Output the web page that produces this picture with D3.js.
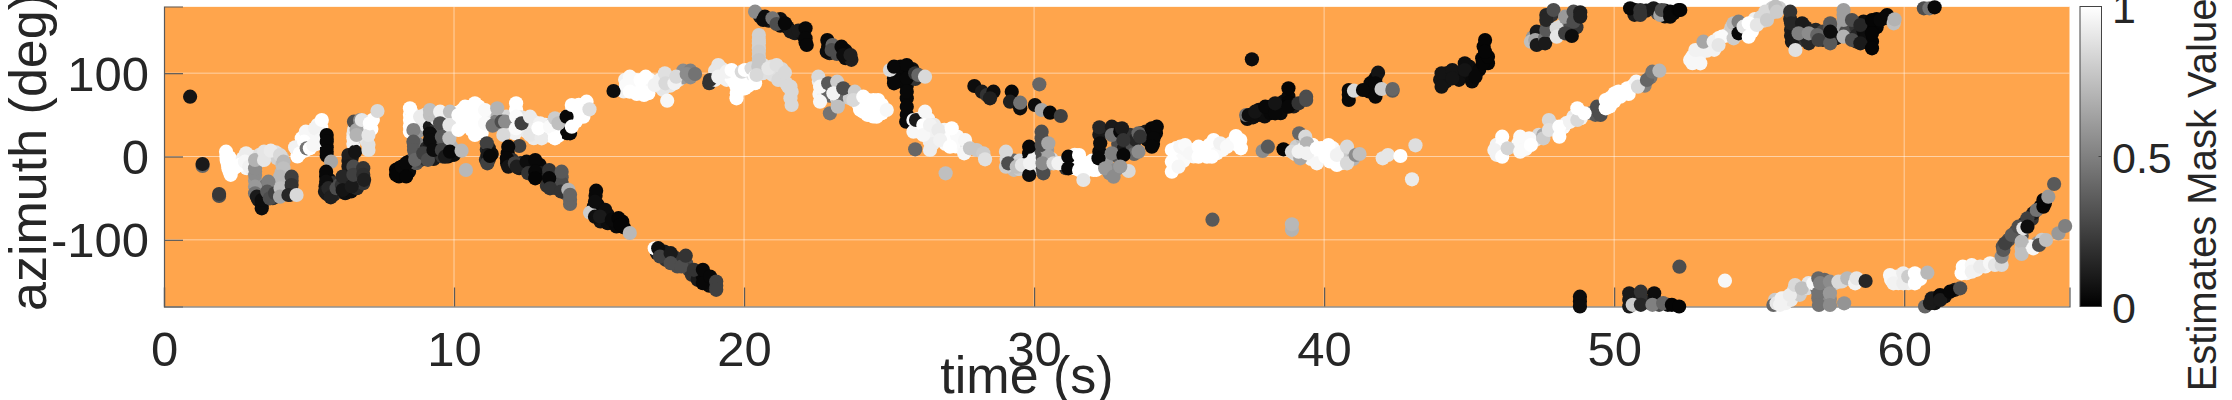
<!DOCTYPE html>
<html><head><meta charset="utf-8">
<script src="https://cdn.jsdelivr.net/npm/d3@7"></script>
<style>html,body{margin:0;padding:0;background:#fff;overflow:hidden}svg{display:block}text{font-family:"Liberation Sans",Arial,sans-serif;fill:#262626}</style>
</head><body><svg id="c" width="2232" height="400"></svg>
<script>
// each sample: [time s, azimuth deg, estimated mask value]
const under00to08=[[2.15,0,1],[2.2,-9,1],[2.26,-18,1],[2.25,-1,1],[2.3,-10,1],[2.4,-14,1],[2.5,-12,1],[2.72,-2,.95],[2.72,-10,1],[2.9,-4,.95],[2.85,-14,.97],[3,0,.93],[3.05,-16,.9],[3.14,-9,.6],[3.14,-18,.55],[3.14,-29,.6],[3.3,-5,.88],[3.3,2,.88],[3.55,3,.9],[3.85,5,.88],[3.9,-2,.82],[4.06,-1,.8],[4.08,-10,.75],[4.06,-19,.72],[4,-31,.72],[3.98,-38,.72],[3.2,-40,.55],[3.25,-52,.1],[3.37,-57,.05],[3.45,-47,.15],[3.5,-35,.45],[3.6,-36,.45],[3.6,-46,.3],[3.72,-42,.3],[3.75,-50,.2],[3.9,-44,.6],[4.15,-44,.7],[4.25,-40,.2],[4.4,-29,.25],[4.38,-40,.2],[4.35,-46,.2],[4.45,-44,.8],[4.6,7,.97],[4.6,0,1],[4.75,10,1],[4.75,22,1],[4.85,7,1],[4.95,18,.97],[4.95,28,1],[5.1,28,.97],[5.1,18,.97],[5.28,25,.97],[5.3,38,.97],[5.42,35,1],[5.42,28,.97],[5.25,15,.97],[5.61,21,.03],[5.61,11,.03],[5.61,1,.03],[5.59,-24,.04],[5.57,-36,.06],[5.62,-45,.1],[5.7,-28,.05],[5.85,-38,.3],[5.85,-46,.15],[5.8,-32,.2],[6.05,-42,.15],[6.05,-34,.3],[6.25,-38,.1],[6.3,-30,.12],[6.36,-5,.1],[6.36,-20,.1],[6.25,-44,.06],[6.36,-38,.85],[6.45,-42,.05],[6.6,-30,.05],[6.65,-38,.15],[6.7,-16,.2],[6.75,-26,.05],[6.87,-32,.2],[6.47,-2,.1],[6.53,15,.95],[6.53,27,.92],[6.58,36,.6],[6.7,35,.7],[6.72,24,.8],[6.7,42,.7],[6.9,30,.9],[6.95,38,.97],[7,18,.9],[7.05,14,.88],[7.2,44,1],[7.15,33,1]];
const under08to15=[[8.1,-14,.03],[8.1,-24,.02],[8.25,-18,.02],[8.45,-6,.05],[8.45,-18,.04],[8.48,50,1],[8.48,36,1],[8.55,52,.95],[8.6,25,.4],[8.62,12,.35],[8.65,2,.35],[8.7,-8,.35],[8.8,-5,.3],[8.8,5,.3],[8.75,15,.5],[8.83,40,.85],[8.75,30,.6],[9,50,.9],[9,38,.9],[9,-3,.2],[9.05,10,.15],[9.17,43,.8],[9.17,36,.1],[9.17,12,.1],[9.2,2,.15],[9.3,-3,.1],[9.3,30,.2],[9.4,45,.9],[9.4,5,.15],[9.45,20,.4],[9.5,47,.5],[9.52,32,.35],[9.58,16,.3],[9.6,0,.2],[9.7,8,.08],[9.7,48,.85],[9.72,32,.4],[9.8,0,.06],[9.86,45,.9],[9.86,30,.85],[9.9,12,.7],[10,2,.05],[10.05,42,1],[10.05,52,1],[10.15,40,1],[10.25,55,1],[10.25,48,1],[10.25,35,1],[10.5,52,1],[10.5,40,1],[10.6,60,1],[10.6,32,1],[10.85,60,1],[10.85,50,1],[10.85,35,1],[10.95,28,1],[11,45,1],[11.2,50,.97],[11.2,40,.97],[11.35,48,.95],[11.13,8,.15],[11.1,-4,.2],[11.2,10,.1],[11.2,-3,.15],[11.3,3,.05],[11.5,50,.7],[11.45,42,.5],[11.7,35,.6],[11.8,48,.85],[11.85,35,.9],[12,30,.9],[12.14,56,1],[12.14,40,.98],[12.1,28,.95],[12.33,47,.9],[12.45,40,.95],[12.5,30,.92],[12.75,42,.93],[12.8,30,.93],[12.75,22,.92],[13.15,38,.97],[13.15,28,.97],[13.3,25,1],[13.4,40,.85],[13.6,33,.8],[13.6,25,1],[13.75,45,.97],[13.85,36,.99],[13.9,28,.03],[13.9,40,.03],[14.06,54,1],[14.06,45,1],[14.2,55,1],[14.2,42,1],[14.3,62,1],[14.35,48,1]];
const underDescent=[[11.85,4,.03],[11.83,-8,.05],[11.95,-10,.1],[12,-4,.2],[12.25,-14,.1],[12.3,-8,.15],[12.35,-12,.05],[12.5,-14,.1],[12.65,-8,.04],[12.65,-18,.1],[12.8,-11,.03],[12.7,-22,.3],[12.95,-10,.03],[13,-20,.1],[13.28,-21,.15],[13.28,-31,.1],[13.2,-35,.2],[13.5,-24,.2],[13.5,-38,.25],[13.71,-25,.35],[13.71,-32,.3],[13.71,-38,.3],[13.85,-44,.3],[14,-57,.4],[14.88,-47,.04],[14.82,-60,.05],[14.8,-66,.05],[14.95,-66,.08],[15.1,-66,.05],[15.05,-78,.08],[15.3,-70,.05],[15.3,-80,.05],[15.55,-78,.03],[15.6,-84,.03],[15.8,-78,.02],[15.85,-85,.02],[14.95,-58,.04],[17,-116,.1],[17.25,-114,.1],[17.3,-124,.2],[17.6,-126,.25],[17.7,-132,.3],[17.65,-122,.2],[18,-128,.3],[18.1,-136,.25],[18.2,-142,.2],[18.4,-140,.1],[18.4,-148,.1],[18.58,-144,.03],[18.7,-150,.03],[18.8,-155,.05],[19.04,-155,.25]];
const underArc=[[15.85,78,.95],[15.9,92,.95],[16.2,85,1],[16.25,92,.98],[16.3,75,1],[16.5,84,1],[16.7,84,1],[16.7,76,1],[16.75,92,.98],[17.05,85,.9],[17.1,92,.95],[17.2,80,.9],[17.4,92,.9],[17.45,85,.9],[17.75,92,.9],[17.9,95,.6],[17.9,103,.55],[18.15,103,.5],[18.15,95,.55],[18.8,88,.2],[19,103,.9],[19,92,.95],[19.25,105,.92],[19.25,95,.97],[19.4,92,.95],[19.55,95,1],[19.65,90,1],[19.75,76,1],[19.85,92,1],[19.85,80,1],[20,95,1],[20.15,92,1],[20.15,85,1],[20.3,98,.9],[20.38,88,1],[20.51,130,.82],[20.51,120,.8],[20.51,140,.82],[20.65,100,.88],[20.65,110,.88],[20.95,108,.88],[20.98,98,.88],[21.3,96,.85],[21.3,105,.85],[21.45,88,.85],[21.6,70,.85],[21.6,84,.85]];
const underTop20=[[20.55,168,.1],[20.85,163,.1],[21.25,165,.05],[21.25,157,.05],[21.5,155,.05],[21.6,150,.1],[21.75,148,.1],[22,150,.05],[22.05,145,.05],[22.12,137,.03],[22.9,132,.05],[22.95,124,.1],[23.2,130,.2],[23.2,123,.3],[23.5,127,.05],[23.5,118,.05],[23.7,116,.12]];
const underWhite22to28=[[22.58,90,.92],[22.6,75,.97],[22.7,88,.9],[22.75,72,.95],[22.85,80,.4],[22.95,73,.4],[23.05,85,.6],[23.2,82,.8],[23.2,70,.9],[23.25,65,.75],[23.35,74,.4],[23.55,78,.4],[23.65,70,.8],[23.9,72,.9],[23.95,62,.98],[24,56,1],[24.25,68,1],[24.25,58,1],[24.25,50,1],[24.45,56,1],[24.45,48,1],[24.75,62,1],[24.75,52,1],[25.17,100,.03],[25.17,94,.03],[25.4,108,.03],[25.4,97,.03],[25.4,90,.03],[25.61,102,.03],[25.61,85,.03],[25.61,70,.03],[25.61,50,.03],[25.8,105,.05],[25.9,93,.2],[25.84,37,.97],[26,30,.97],[26,45,.97],[26.2,46,.97],[26.1,30,.97],[26.35,45,.97],[26.35,28,.95],[26.4,18,.93],[26.55,38,.92],[26.6,25,.95],[26.5,15,.93],[26.85,25,.98],[26.9,32,.97],[26.95,15,.98],[27.16,24,1],[27.3,12,1],[27.35,24,.98],[27.45,16,.98],[27.7,12,.9]];
const underLower29to34=[[29.05,-3,.85],[29.2,-10,.7],[29.3,-5,.4],[29.3,-16,.75],[29.5,-5,.85],[29.5,-15,.8],[29.7,-8,.85],[29.83,4,.03],[29.83,-4,.03],[29.83,-14,.04],[30,-14,.95],[30,-2,.95],[30.1,-10,.9],[30.26,22,.3],[30.26,6,.3],[30.3,-2,.3],[30.3,-14,.3],[30.45,8,.6],[30.45,-10,.6],[30.6,-3,.85],[31,-8,.9],[31.1,-14,.2],[31.18,-7,.03],[31.4,-6,1],[31.4,2,.98],[31.4,-14,1],[31.6,-8,1],[31.75,-18,1],[31.9,-15,1],[32,-5,1],[32.15,-16,1],[32.25,26,.1],[32.25,6,.04],[32.3,-8,.8],[32.5,30,.1],[32.5,-5,.6],[32.6,-20,.55],[32.85,33,.08],[32.85,-15,.55],[32.9,15,.3],[32.9,0,.35],[33.05,26,.12],[33.1,10,.1],[33.3,26,.2],[33.4,12,.3],[33.45,3,.4],[33.5,20,.15],[33.7,28,.12],[33.85,30,.1],[33.9,20,.05],[34,26,.03],[34.1,15,.03],[34.2,28,.03]];
const under35to41=[[34.85,4,1],[34.85,-12,1],[34.9,10,.98],[35,0,.98],[35.1,5,.98],[35.15,-5,.98],[35.25,8,.97],[35.5,8,.98],[35.5,0,.98],[35.8,10,1],[35.85,2,1],[36.05,14,1],[36.05,5,1],[36.3,12,1],[36.3,4,.98],[36.5,8,.98],[36.8,16,.97],[36.95,15,1],[37.05,14,1],[37.35,45,.05],[37.55,47,.06],[37.75,56,.05],[37.75,50,.05],[37.95,48,.05],[38.15,60,.03],[38.15,52,.03],[38.5,60,.03],[38.5,52,.04],[38.6,66,.05],[38.77,72,.03],[38.77,65,.02],[38.95,60,.1],[39,3,.9],[39.05,12,.8],[39.25,22,.75],[39.25,0,.8],[39.3,10,.95],[39.55,8,.97],[39.55,-3,.97],[39.6,14,1],[39.9,10,1],[39.9,0,1],[40.2,3,1],[40.2,-6,1],[40.3,10,.98],[40.6,5,.95],[40.6,-8,.9],[40.85,1,.8],[41,-3,.7]];
const under41to52=[[40.85,74,.03],[41.55,78,.03],[41.6,88,.03],[41.77,94,.03],[41.77,80,.03],[44,92,.08],[44.2,90,.08],[44.25,100,.08],[44.6,100,.07],[44.65,92,.06],[45,100,.05],[45,108,.05],[45.1,90,.04],[45.35,104,.03],[45.45,118,.02],[45.5,132,.02],[45.65,112,.02],[45.95,14,.95],[45.95,2,.95],[46.14,8,1],[46.14,15,1],[46.7,16,.98],[46.8,12,.98],[46.9,20,.97],[46.95,9,.98],[47.3,20,.9],[47.4,26,.85],[47.85,38,.9],[48.11,30,1],[48.25,35,.98],[48.35,40,.95],[48.6,48,.92],[48.85,46,.95],[49.2,52,.5],[49.35,50,.35],[49.45,54,.3],[49.65,62,1],[49.85,70,1],[49.85,60,1],[50,66,1],[50.15,78,1],[50.35,76,1],[50.5,75,1],[50.65,85,1],[50.95,88,.7],[51.05,85,.5],[51.25,95,.45],[47.2,143,.6],[47.4,144,.3],[47.45,136,.3],[47.7,158,.15],[47.85,170,.2],[47.8,145,.4],[48.15,156,.85],[48.15,148,.9],[48.3,155,.5],[48.4,167,.4],[48.45,153,.3],[48.7,168,.2],[48.7,155,.2],[50.7,176,.1],[50.7,170,.1],[51.1,175,.1],[51.5,172,.3],[51.75,175,.1],[51.75,168,.05],[52.05,172,.03],[48.82,-174,.05],[50.52,-172,.1],[50.75,-176,.3],[50.72,-168,.2],[50.92,-170,.15],[51.15,-175,.2],[51.38,-171,.1],[51.55,-178,.3],[51.85,-178,.05]];
const under52to65=[[55.55,-172,.8],[55.9,-170,.92],[55.9,-176,.95],[56.1,-172,.92],[56.2,-160,.85],[56.4,-166,.8],[56.65,-158,.85],[56.7,-152,.9],[57,-158,.45],[57.04,-170,.45],[57.25,-148,.4],[57.25,-158,.5],[57.25,-170,.5],[57.44,-157,.55],[57.44,-171,.55],[57.6,-152,.8],[57.85,-150,.85],[58.2,-148,.85],[59.55,-148,.97],[59.75,-144,.95],[59.8,-152,.95],[60.15,-152,.95],[60.55,-147,1],[61.05,-176,.08],[61.1,-170,.05],[61.4,-168,.05],[61.75,-160,.1],[62.15,-134,1],[62.15,-140,.97],[62.5,-136,.95],[62.8,-132,.95],[63.25,-128,.9],[63.4,-108,.3],[63.6,-100,.3],[63.85,-90,.25],[64.05,-110,.75],[64.05,-95,.3],[64.15,-80,.15],[64.4,-75,.2],[64.45,-68,.1],[64.7,-60,.05],[64.85,-56,.02],[64.6,-104,.6],[64.75,-100,.8],[64.35,-108,.97],[52.7,120,.97],[52.7,112,.97],[52.85,118,.97],[52.95,122,.95],[53.2,135,.95],[53.2,127,.95],[53.45,128,.95],[53.6,142,.97],[53.85,145,.95],[54,150,.85],[54.05,155,.8],[54.4,148,.9],[54.5,150,.97],[54.75,150,1],[54.85,165,.95],[55.05,167,.85],[55.15,163,.85],[55.4,172,.8],[55.45,178,.8],[55.7,178,.8],[56.07,165,.15],[56.1,152,.12],[56.1,145,.1],[56.3,155,.1],[56.45,148,.15],[56.45,140,.2],[56.6,155,.12],[56.65,142,.15],[56.9,142,.2],[56.95,152,.15],[57.2,150,.25],[57.2,140,.15],[57.45,154,.35],[57.45,142,.35],[57.7,150,.2],[57.65,142,.1],[57.91,170,.62],[57.91,155,.62],[58,150,.3],[58.1,160,.3],[58.1,148,.3],[58.35,155,.2],[58.35,145,.15],[58.35,138,.15],[58.6,162,.05],[58.6,150,.05],[58.6,140,.05],[58.89,156,.02],[58.89,138,.02],[59.05,165,.02],[59.05,155,.02],[59.3,166,.03]];
const track00to05=[[.9,71.8,.08],[1.33,-11.4,.4],[1.33,-9,.1],[1.9,-47.4,.3],[1.9,-45,.22],[2.14,5.8,1],[2.16,-4.2,1],[2.22,-14,1],[2.3,-22,1],[2.62,-10,1],[2.83,3.8,.93],[2.79,-6.2,.97],[2.94,-12,.95],[3.14,-22.2,.55],[3.14,-14.2,.55],[3.14,-4.2,.7],[3.45,-4.2,.9],[3.45,5.8,.9],[3.68,7,.92],[4,1.8,.85],[4.12,-6.2,.72],[4.12,-14.2,.75],[4,-24.2,.72],[3.14,-36.2,.6],[3.14,-44.2,.45],[3.2,-48.2,.1],[3.37,-62.2,.05],[3.37,-52.2,.05],[3.6,-30.2,.5],[3.56,-42.2,.35],[3.65,-50.2,.3],[3.83,-44.2,.25],[4.02,-38.2,.75],[4,-48.2,.65],[4.4,-24.2,.25],[4.4,-34.2,.2],[4.29,-46.2,.15],[4.57,-46.2,.85]];
const track05to08=[[4.52,11,.95],[4.69,3.8,1],[4.89,29.8,.97],[4.83,17.8,1],[4.92,9.8,.45],[5.03,9.8,1],[5.21,33.8,.95],[5.15,13.8,.97],[5.44,43.8,1],[5.38,19.8,.97],[5.61,25.8,.03],[5.61,17.8,.03],[5.61,5.8,.03],[5.76,-6.2,.65],[5.59,-18.2,.03],[5.59,-30.2,.05],[5.55,-42.2,.1],[5.67,-38,.15],[5.75,-49,.12],[5.95,-38,.3],[6.13,-34.2,.2],[6.36,1.8,.12],[6.36,-12,.1],[6.16,-24,.15],[6.16,-40.2,.08],[6.47,-36,.1],[6.59,5.8,.08],[6.53,-12.2,.3],[6.53,-22,.25],[6.87,-14,.2],[6.87,-22,.18],[6.9,-28,.12],[6.53,21.8,.95],[6.55,31.8,.9],[6.55,41.8,.3],[6.76,43.8,.55],[6.64,31.8,.65],[6.64,25.8,.7],[6.82,43.8,.9],[7.05,25.8,.9],[7.1,39.8,1],[7.05,7.8,.88],[7.36,54.6,.85]];
const track08to11=[[8,-16,.02],[8,-22,.02],[8.2,-12,.03],[8.35,-8,.03],[8.35,-24,.02],[8.48,57.8,1],[8.48,43.8,1],[8.48,29.8,1],[8.6,31.8,.5],[8.6,17.8,.35],[8.62,7.8,.35],[8.66,-4,.4],[8.83,47.8,.92],[9.17,49.8,.75],[9.17,55.8,.75],[9.17,27.8,.05],[9.17,19.8,.05],[8.94,3.8,.25],[9.1,-4,.3],[9.29,7.8,.05],[9.52,53.8,.95],[9.52,39.8,.3],[9.58,23.8,.35],[9.58,7.8,.25],[9.69,-.2,.1],[9.86,53.8,.75],[9.84,37.8,.9],[9.84,21.8,.75],[9.86,5.8,.03],[10.26,7,.72],[10.41,-16.2,.72],[10.15,49.8,1],[10.15,31.8,1],[10.38,59.8,1],[10.38,43.8,1],[10.72,63.8,1],[10.72,43.8,1],[10.72,25.8,1],[11.07,55.8,.98],[11.07,39.8,.98]];
const track11to15=[[11.13,15.8,.25],[11.15,1.8,.1],[11.15,-8.2,.25],[11.24,.6,.03],[11.49,57.8,.7],[11.33,37,.45],[11.64,41.8,.3],[11.76,41.8,.55],[11.7,25.8,.85],[12.14,63.8,1],[12.14,47.8,.98],[12.14,33.8,.98],[12.25,12.6,.25],[12.33,39.8,.25],[12.62,47.8,.92],[12.62,25.8,.9],[12.97,39.8,.95],[13.02,21.8,.92],[12.91,33.8,1],[13.31,35.8,.98],[13.48,45.8,.8],[13.48,21.8,1],[13.6,39.8,.75],[14,27.8,.03],[13.88,47.8,.03],[14.06,61.8,1],[14.06,35.8,1],[14.46,57.8,1],[14.57,65.8,1],[14.46,47.8,1],[14.67,56.6,.87]];
const descentA=[[11.87,11.8,.03],[11.82,-2.2,.03],[11.87,-12.2,.08],[12.1,-8.2,.25],[12.16,-12.2,.12],[12.5,-6.2,.05],[12.56,-20,.2],[12.8,-4.2,.03],[12.8,-18.2,.03],[12.8,-26.2,.02],[13.28,-16.2,.2],[13.28,-26,.03],[13.31,-38.2,.2],[13.71,-18.2,.35],[13.69,-42,.2],[13.94,-40,.7],[14,-52,.4],[14,-46,.4],[14.69,-67.4,.8],[14.9,-41,.03],[14.86,-54.2,.05],[14.86,-72.2,.06],[15.21,-64,.05],[15.03,-72,.1],[15.44,-76,.04],[15.67,-74,.02],[15.73,-82,.02],[16.06,-91.8,.72]];
const descentB=[[16.92,-110.2,1],[17.04,-110,.05],[17.1,-120,.25],[17.47,-116,.1],[17.47,-128,.3],[17.84,-132,.3],[17.99,-119,.2],[18.27,-136,.2],[18.58,-136,.03],[18.58,-152,.03],[18.83,-144,.03],[19.04,-150,.25],[19.04,-160,.25]];
const arc15to22=[[15.5,78.6,.05],[15.93,85.8,.98],[16.06,95.8,.98],[16.06,77.8,1],[16.43,91.8,1],[16.55,73.8,1],[16.61,95.8,1],[16.92,85.8,.95],[17.27,99.8,.88],[17.29,87.8,.85],[17.35,67,.97],[17.6,87.8,.95],[17.66,95.8,.85],[18.02,99,.55],[18.31,99,.45],[18.82,91.8,.2],[19.11,109.8,.9],[19.11,95.8,.95],[19.4,101.8,.95],[19.74,83.8,1],[19.74,69.8,1],[19.57,103.8,1],[19.92,101.8,.85],[20.03,103.8,1],[20.03,81.8,1],[20.26,105.8,.85],[20.38,95.8,1],[20.51,145.8,.82],[20.51,135.8,.82],[20.51,125.8,.8],[20.51,115.8,.78],[20.49,107.8,.78],[20.43,97.8,.85],[20.84,105.8,.9],[21.12,109.8,.88],[21.18,91.8,.85],[21.41,100.6,.85],[21.52,83.8,.85],[21.64,77.8,.85],[21.64,61.8,.85]];
const topTrack20to24=[[20.38,173.8,.55],[20.72,167.8,.05],[20.66,163.8,.05],[20.98,165.8,.45],[21.12,159,.3],[21.41,159.8,.03],[21.87,151,.1],[22.12,153.8,.03],[22.12,141.8,.03],[22.16,133.8,.03],[22.87,139.8,.03],[22.85,125.8,.05],[23.05,133.8,.4],[23.02,127.8,.3],[23.36,131.8,.03],[23.42,121.8,.05],[23.67,121.8,.12]];
const whiteTrack22to25=[[22.56,95.8,.85],[22.62,83.8,.97],[22.62,65.8,.97],[22.9,87.8,.35],[22.96,51.8,.45],[23.21,89.8,.8],[23.23,59.8,.75],[23.08,75.8,.95],[23.42,81.8,.3],[23.82,77.8,.8],[23.77,67.8,.85],[24.11,71.8,1],[24.11,53.8,1],[24.46,67.8,1],[24.57,47.8,1],[24.62,67.8,1],[24.62,49.8,1],[24.92,55.8,.97]];
const track25to28=[[25.03,103.8,.85],[25.17,107.8,.03],[25.17,87.8,.03],[25.61,109.8,.03],[25.61,93.8,.03],[25.61,77.8,.03],[25.61,59.8,.03],[25.9,99.8,.2],[26.01,97.8,.4],[26.24,95.8,.85],[25.59,41.8,.03],[25.84,43.8,.97],[25.84,29.8,.97],[25.93,43.8,.1],[26.24,53.8,.97],[26.18,37.8,1],[26.18,25.8,.97],[26.41,37.8,.95],[26.41,7.8,.93],[26.7,31.8,.92],[25.9,8.6,.4],[26.76,19.8,.95],[27.16,33.8,1],[27.1,11.8,1],[27.62,19.8,.97],[27.59,3.8,.97],[27.79,9.8,.78],[28.02,7.8,.78],[28.25,3.8,.8],[28.31,-3.4,.88],[26.95,-20.2,.75]];
const upper28to31=[[27.94,84.6,.05],[28.2,77.8,.1],[28.37,73.8,.2],[28.6,77.8,.05],[28.48,69.8,.12],[29.23,77.8,.03],[29.17,65.8,.12],[29.52,57.8,.05],[29.52,64.6,.45],[30.18,86.6,.4],[30.03,61.8,.05],[30.26,55.8,.65],[30.55,52.6,.03],[30.92,48.6,.25]];
const lower29to34=[[29.03,5.8,.85],[29.03,-12.2,.8],[29.11,-8.2,.3],[29.4,-12.2,.75],[29.58,-10.2,.9],[29.83,11.8,.03],[29.83,-22.2,.05],[29.86,-8.2,.95],[30.26,29.8,.3],[30.26,13.8,.3],[30.49,15.8,.65],[30.32,-20.2,.3],[30.49,-.2,.65],[30.29,-8.2,.55],[30.67,-8.2,.85],[30.84,-8.2,.95],[31.18,-.2,.03],[31.18,-14.2,.03],[31.55,1.8,1],[31.55,-16.2,1],[31.7,-28.2,.9],[31.82,-8.2,1],[32.05,-16.2,1],[32.25,35,.15],[32.28,15.8,.05],[32.22,-2.2,.03],[32.68,35.8,.1],[32.68,25.8,.45],[32.45,-14.2,.6],[32.68,3.8,.5],[32.74,-24.2,.55],[32.97,29.8,.03],[33.03,33.8,.1],[33.08,19.8,.2],[33.08,1.8,.03],[33.6,5.8,.55],[33.6,27.8,.4],[33.66,23.8,.2],[33.26,-17.4,.85],[32.97,-12,.6],[34.06,33.8,.03],[34.23,35.8,.03],[34.12,21.8,.03],[34.06,11.8,.03]];
const white35to37=[[34.75,7.8,1],[34.75,-6.2,1],[34.75,-18.2,1],[34.98,-12.2,.97],[35.04,11.8,.97],[35.21,13.8,.98],[35.38,3.8,.97],[35.67,11.8,1],[35.67,-.2,1],[35.96,-.2,1],[36.19,19.8,1],[36.13,-.2,1],[36.42,15.8,.95],[36.65,11.8,.98],[36.96,24.6,1],[37.11,19.8,1],[37.13,9.8,1]];
const isolated=[[36.15,-75.8,.35],[37.51,116.6,.05],[38.89,-88,.7],[38.89,-81.4,.72],[37.88,6.6,.55],[38.06,11.8,.35]];
const upper37to39=[[37.31,49.8,.45],[37.4,49.8,.05],[37.62,53.8,.08],[37.97,59.8,.03],[38.31,51.8,.03],[38.31,63.8,.08],[38.77,81.8,.02],[38.77,59.8,.03],[39.12,63.8,.2],[39.38,71.8,.3],[39.38,67.8,.3]];
const lower38to43=[[38.6,8.6,.02],[38.89,5.8,.85],[39.14,27.8,.4],[39.18,-2.2,.65],[39.35,23.8,.85],[39.41,15.8,.7],[39.12,5.8,.95],[39.41,3.8,.95],[39.75,9.8,1],[39.75,-8.2,.97],[40.15,13.8,1],[40.04,-.2,1],[40.44,-10.2,1],[40.44,1.8,.95],[40.79,11.8,.85],[40.79,-8.2,.85],[41.09,1.8,.55],[41.22,3,.75],[42.02,-2.2,.9],[42.2,1.8,.9],[42.63,.6,1],[43.15,13.4,.87],[43.03,-27.4,.92]];
const upper41to46=[[40.85,79.8,.03],[40.85,67.8,.03],[41.03,79,.85],[41.34,79.8,.03],[41.86,100.6,.08],[41.77,87.8,.03],[41.77,71.8,.03],[41.98,81,.8],[42.36,79,.35],[42.36,81,.4],[44.05,99.8,.08],[44.05,83.8,.08],[44.42,103.8,.08],[44.42,93.8,.08],[44.85,111.8,.05],[44.85,103.8,.08],[45.22,95.8,.03],[45.47,111.8,.02],[45.65,119.8,.02],[45.55,139.8,.02],[45.55,125.8,.02]];
const diagonal46to52=[[45.87,7.8,.95],[46.14,23.8,1],[46.14,-.2,1],[46.33,9.8,.83],[46.76,23.8,.98],[46.76,5.8,.98],[47.07,21.8,.98],[47.13,13.8,1],[47.56,25.8,.65],[47.56,21.8,.8],[47.75,43.8,.85],[47.75,31.8,.88],[48.11,35.8,1],[48.11,23.8,1],[48.48,41.8,.95],[48.73,43.8,.85],[48.73,57.8,1],[48.98,51.8,1],[49.41,59.8,.3],[49.53,49.8,.3],[49.71,67.8,1],[49.71,57.8,1],[50.02,75.8,1],[50.21,71.8,1],[50.45,81.8,1],[50.76,89.8,.97],[50.82,83.8,.85],[51.13,91.8,.4],[51.32,101.8,.45],[51.56,103,.72]];
const upper47to49=[[47.13,137.8,.75],[47.33,149.8,.1],[47.28,139.8,.65],[47.33,133.8,.1],[47.62,141.8,.45],[47.62,135.8,.1],[47.66,151.8,.35],[47.66,169.8,.15],[47.66,163.8,.15],[47.91,175.8,.3],[48.02,153.8,.85],[48.02,143.8,.9],[48.31,167.8,.6],[48.31,147.8,.25],[48.54,144.6,.05],[48.6,173.8,.3],[48.6,161.8,.3],[48.83,173,.12],[48.83,167.8,.12]];
const wrapTop50to52=[[50.55,177.8,.03],[50.9,175.8,.2],[50.9,169.8,.2],[51.36,177.8,.1],[51.59,169.8,.65],[51.64,175.8,.3],[51.93,173.8,.03],[51.93,167.8,.03],[52.22,175.8,.02],[52.28,175.8,.02],[60.68,177.8,.3],[60.87,177.8,.45],[61.05,179,.03]];
const wrapBottom49to52=[[48.82,-168.2,.05],[48.82,-180,.05],[50.52,-164.2,.1],[50.52,-180,.1],[50.64,-178,.8],[50.92,-162.2,.2],[50.92,-178,.15],[51.38,-164.2,.05],[51.32,-178,.5],[51.69,-176,.4],[51.99,-178,.02],[52.24,-180,.02],[52.25,-132.2,.3],[53.82,-149,.97]];
const bottom55to61=[[55.49,-178.2,.4],[55.6,-176.2,.9],[55.78,-170.2,.95],[55.72,-178,.95],[56.06,-166.2,.92],[56.24,-154.2,.85],[56.47,-158.2,.75],[56.87,-152.2,.97],[57.04,-146.2,.4],[57.04,-164.2,.45],[57.06,-178.2,.45],[57.1,-152,.5],[57.44,-150.2,.55],[57.44,-164.2,.6],[57.44,-178.2,.55],[57.73,-150.2,.85],[57.93,-176.2,.58],[58.04,-146.2,.72],[58.31,-152.2,.95],[58.36,-146.2,.9],[58.67,-149.4,.15],[59.51,-142.2,.97],[59.63,-152.2,.95],[59.97,-140.2,.93],[59.97,-152.2,.93],[60.14,-144,.8],[60.37,-140.2,1],[60.37,-152.2,1],[60.8,-139.4,.72]];
const rise61to66=[[60.72,-180,.4],[60.89,-176.2,.1],[60.95,-170.2,.1],[61.24,-166.2,.03],[61.24,-172.2,.1],[61.58,-162.2,.03],[61.93,-158.2,.3],[62.02,-132.2,1],[61.98,-140.2,1],[62.33,-130.2,.97],[62.33,-138.2,.95],[62.62,-132.2,.92],[62.96,-128.2,.97],[63.13,-130.2,.9],[63.36,-130.2,.85],[63.36,-120.2,.55],[63.42,-112.2,.35],[63.48,-104.2,.25],[63.71,-94.2,.35],[64.05,-102.2,.72],[64.05,-117,.75],[63.94,-84.2,.3],[64.11,-86.2,.9],[64.25,-74.2,.25],[64.25,-84.2,.05],[64.45,-110.2,.97],[64.65,-106.2,.3],[64.89,-100.2,.75],[64.57,-64.2,.45],[64.8,-60.2,.02],[64.8,-52.2,.02],[64.97,-48.2,.6],[65.17,-33,.35],[65.32,-92.2,.6],[65.55,-83.4,.5]];
const white52to56=[[52.62,115.8,.97],[52.8,127.8,.95],[52.97,111.8,.97],[53.08,137.8,.65],[53.43,137.8,.95],[53.72,143.8,.98],[53.6,133.8,.9],[54.12,159.8,.75],[54.12,141.8,.8],[54.29,161.8,.5],[54.29,147.8,.03],[54.46,155.8,.9],[54.64,143.8,1],[54.64,159.8,1],[54.92,157.8,.9],[55.21,173.8,.85],[55.27,163.8,.8],[55.56,179.8,.75],[55.61,173.8,.8]];
const black56to60=[[56.07,173.8,.2],[56.1,159.8,.15],[56.13,137.8,.1],[56.48,159.8,.1],[56.25,127.8,.88],[56.36,147.8,.5],[56.71,135.8,.15],[56.71,147.8,.55],[57,145.8,.4],[57.05,139.8,.25],[57.45,159.8,.35],[57.45,135.8,.35],[57.45,149.8,.05],[57.91,175.8,.62],[57.91,163.8,.62],[57.91,143.8,.7],[58.2,163.8,.3],[58.2,139.8,.3],[58.49,157.8,.15],[58.49,135.8,.1],[58.89,163.8,.02],[58.89,147.8,.02],[58.89,129.8,.02],[59.18,163.8,.03],[59.41,169.8,.03],[59.64,159.8,.75],[59.67,164.6,.7]];
const xTicks=[0,10,20,30,40,50,60];
const yTicks=[-100,0,100];
const cbTicks=[0,0.5,1];
const xLabel="time (s)", yLabel="azimuth (deg)", cbLabel="Estimates Mask Value";

const samples=[...under00to08,...under08to15,...underDescent,...underArc,...underTop20,...underWhite22to28,...underLower29to34,...under35to41,...under41to52,...under52to65,...track00to05,...track05to08,...track08to11,...track11to15,...descentA,...descentB,...arc15to22,...topTrack20to24,...whiteTrack22to25,...track25to28,...upper28to31,...lower29to34,...white35to37,...isolated,...upper37to39,...lower38to43,...upper41to46,...diagonal46to52,...upper47to49,...wrapTop50to52,...wrapBottom49to52,...bottom55to61,...rise61to66,...white52to56,...black56to60];

const L=164,R=2069.5,T=6.5,B=306.5,CL=2080,CR=2101.5;
const x=d3.scaleLinear().domain([0,65.7]).range([L,R]);
const y=d3.scaleLinear().domain([-180,180]).range([B,T]);
const cb=d3.scaleLinear().domain([0,1]).range([B,T]);
const gray=d3.scaleLinear().domain([0,1]).range(["#000","#fff"]);
const svg=d3.select("#c");
const defs=svg.append("defs");
const g=defs.append("linearGradient").attr("id","cbg").attr("x1",0).attr("x2",0).attr("y1",1).attr("y2",0);
g.selectAll("stop").data(d3.range(0,1.01,.1)).join("stop").attr("offset",d=>d).attr("stop-color",d=>gray(d));

svg.append("rect").attr("x",L).attr("y",T).attr("width",R-L).attr("height",B-T).attr("fill","#FFA54C");
// grid
const gridC="rgba(255,255,255,.5)";
svg.append("g").selectAll("line").data(xTicks.slice(1)).join("line").attr("x1",x).attr("x2",x).attr("y1",T).attr("y2",B).attr("stroke",gridC).attr("stroke-width",1);
svg.append("g").selectAll("line").data(yTicks).join("line").attr("x1",L).attr("x2",R).attr("y1",y).attr("y2",y).attr("stroke",gridC).attr("stroke-width",1);
svg.append("line").attr("x1",L).attr("x2",R).attr("y1",T).attr("y2",T).attr("stroke","rgba(255,255,255,.7)");
// axes
const ax=svg.append("g").attr("transform",`translate(0,${B})`).call(d3.axisBottom(x).tickValues(xTicks).tickFormat(d3.format("d")).tickSize(-19).tickPadding(0));
const ay=svg.append("g").attr("transform",`translate(${L},0)`).call(d3.axisLeft(y).tickValues(yTicks).tickFormat(d=>d<0?"-"+Math.abs(d):d).tickSize(-19).tickPadding(0));
[ax,ay].forEach(a=>{a.selectAll("path.domain,line").attr("stroke","#5a5a5a").attr("stroke-width",1.2);a.selectAll("text").attr("font-size",49).attr("fill","#262626")});
ax.selectAll("text").attr("y",0).attr("dy",null).attr("text-anchor","middle").attr("transform","translate(0,59)");
ay.selectAll("text").attr("x",-15).attr("dy",null).attr("transform","translate(0,17)");
// dots
svg.append("g").selectAll("circle").data(samples).join("circle").attr("cx",d=>x(d[0])).attr("cy",d=>y(d[1])).attr("r",7.1).attr("fill",d=>gray(d[2]));
// colorbar
svg.append("rect").attr("x",CL).attr("y",T).attr("width",CR-CL).attr("height",B-T).attr("fill","url(#cbg)").attr("stroke","#444").attr("stroke-width",1);
svg.append("line").attr("x1",CR-3).attr("x2",CR).attr("y1",cb(.5)).attr("y2",cb(.5)).attr("stroke","#444");
svg.append("g").selectAll("text").data(cbTicks).join("text").attr("x",2112).attr("y",d=>cb(d)+16).attr("font-size",43).text(d=>d);
// labels
svg.append("text").attr("x",1027).attr("y",393).attr("text-anchor","middle").attr("font-size",52).text(xLabel);
svg.append("text").attr("transform","translate(46,152) rotate(-90)").attr("text-anchor","middle").attr("font-size",52).text(yLabel);
svg.append("text").attr("transform","translate(2216,195) rotate(-90)").attr("text-anchor","middle").attr("font-size",40).text(cbLabel);
</script></body></html>
